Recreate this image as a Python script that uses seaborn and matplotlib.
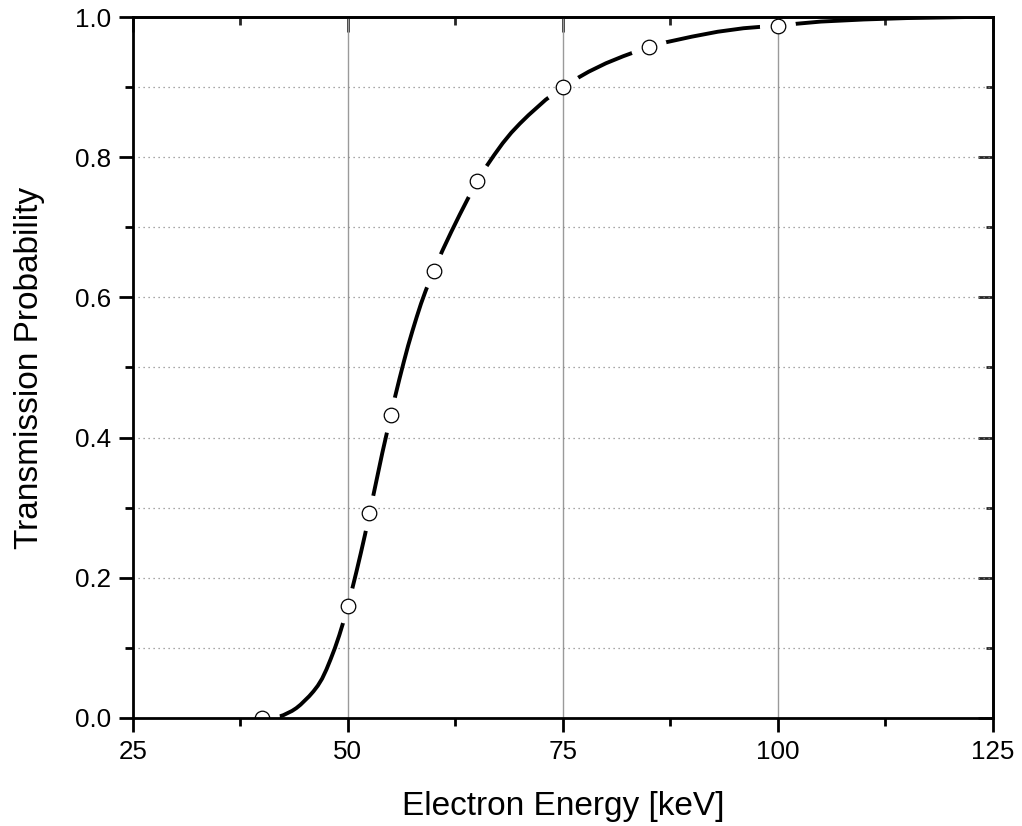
import numpy as np
import matplotlib
matplotlib.use("Agg")
import matplotlib.pyplot as plt
import seaborn as sns
from matplotlib.path import Path
from matplotlib.transforms import IdentityTransform
from matplotlib.ticker import MultipleLocator

## Measured points (open circles)
energy_pts = [40, 50, 52.5, 55, 60, 65, 75, 85, 100]
prob_pts = [0.0, 0.160, 0.292, 0.432, 0.638, 0.766, 0.900, 0.957, 0.987]

## Fitted curve
energy_fit = [41.3, 42, 42.5, 43, 43.5, 44, 44.5, 45, 45.5, 46, 46.5, 47, 47.5,
              48, 48.5, 49, 49.5, 50, 50.5, 51, 51.5, 52, 52.5, 53, 53.5, 54,
              54.5, 55, 55.5, 56, 56.5, 57, 57.5, 58, 58.5, 59, 59.5, 60, 61,
              62, 63, 64, 65, 66, 67, 68, 69, 70, 71, 72, 73, 74, 75, 76, 77,
              78, 79, 80, 82, 84, 85, 87, 90, 93, 96, 100, 105, 110, 115, 120,
              122, 125]
prob_fit = [0.0, 0.002, 0.004, 0.007, 0.010, 0.014, 0.019, 0.025, 0.031,
            0.038, 0.046, 0.056, 0.069, 0.084, 0.100, 0.118, 0.138, 0.160,
            0.184, 0.209, 0.235, 0.262, 0.291, 0.320, 0.349, 0.378, 0.405,
            0.432, 0.459, 0.484, 0.508, 0.531, 0.552, 0.572, 0.591, 0.608,
            0.624, 0.639, 0.667, 0.693, 0.718, 0.742, 0.765, 0.785, 0.803,
            0.820, 0.835, 0.848, 0.860, 0.871, 0.882, 0.891, 0.900, 0.908,
            0.915, 0.922, 0.928, 0.934, 0.944, 0.953, 0.957, 0.964, 0.972,
            0.979, 0.984, 0.988, 0.9935, 0.9965, 0.9985, 0.9995, 1.0, 1.0]

sns.set_style("ticks")
plt.rcParams['font.family'] = ['Liberation Sans', 'DejaVu Sans']
plt.rcParams['text.color'] = 'black'
plt.rcParams['axes.labelcolor'] = 'black'

fig = plt.figure(figsize=(10.22, 8.26), dpi=100)
ax = fig.add_axes([0.130, 0.1308, 0.8416, 0.8486])
ax.set_xlim(25, 125)
ax.set_ylim(0, 1)

# curve and points
sns.lineplot(x=energy_fit, y=prob_fit, ax=ax, color='black', lw=2.8,
             sort=False, zorder=2.2)
curve = ax.lines[-1]
sns.scatterplot(x=energy_pts, y=prob_pts, ax=ax, s=110, marker='o',
                facecolor='white', edgecolor='black', linewidth=0.9, zorder=2.4)

# gaps in the curve around each symbol (Origin style)
gap = 18
pix = ax.transData.transform(np.column_stack([energy_pts, prob_pts]))
bb = ax.bbox
x0, y0, x1, y1 = bb.x0 - 60, bb.y0 - 60, bb.x1 + 60, bb.y1 + 60
rect = Path([(x0, y0), (x0, y1), (x1, y1), (x1, y0), (x0, y0)],
            [Path.MOVETO, Path.LINETO, Path.LINETO, Path.LINETO, Path.CLOSEPOLY])
holes = [Path.circle(center=p, radius=gap) for p in pix]
curve.set_clip_path(Path.make_compound_path(rect, *holes), IdentityTransform())

# grid
ax.xaxis.set_major_locator(MultipleLocator(25))
ax.xaxis.set_minor_locator(MultipleLocator(12.5))
ax.yaxis.set_major_locator(MultipleLocator(0.2))
ax.yaxis.set_minor_locator(MultipleLocator(0.1))
ax.grid(axis='x', which='major', color='#9a9a9a', lw=1.0, ls='-')
ax.grid(axis='y', which='both', color='#8a8a8a', lw=0.9, ls=(0, (1, 3)))
ax.set_axisbelow(True)

for sp in ax.spines.values():
    sp.set_linewidth(2.0)
    sp.set_color('black')

ax.tick_params(which='major', direction='out', length=10, width=2,
               labelsize=18.7, pad=6, colors='black')
ax.tick_params(which='minor', direction='out', length=5.5, width=2, colors='black')
ax.set_yticklabels([f"{v:.1f}" for v in ax.get_yticks()])

# top / right ticks point inwards
top = ax.secondary_xaxis('top')
top.xaxis.set_major_locator(MultipleLocator(25))
top.xaxis.set_minor_locator(MultipleLocator(12.5))
top.tick_params(which='major', direction='in', length=11, width=2, labeltop=False)
top.tick_params(which='minor', direction='in', length=6, width=2)
top.spines['top'].set_linewidth(2.0)
right = ax.secondary_yaxis('right')
right.yaxis.set_major_locator(MultipleLocator(0.2))
right.yaxis.set_minor_locator(MultipleLocator(0.1))
right.tick_params(which='major', direction='in', length=11, width=2, labelright=False)
right.tick_params(which='minor', direction='in', length=5, width=2)
right.spines['right'].set_linewidth(2.0)

ax.set_xlabel("Electron Energy [keV]", fontsize=24, labelpad=19, color='black')
ax.set_ylabel("Transmission Probability", fontsize=24, labelpad=21, color='black')

fig.savefig('out.png', dpi=100)
